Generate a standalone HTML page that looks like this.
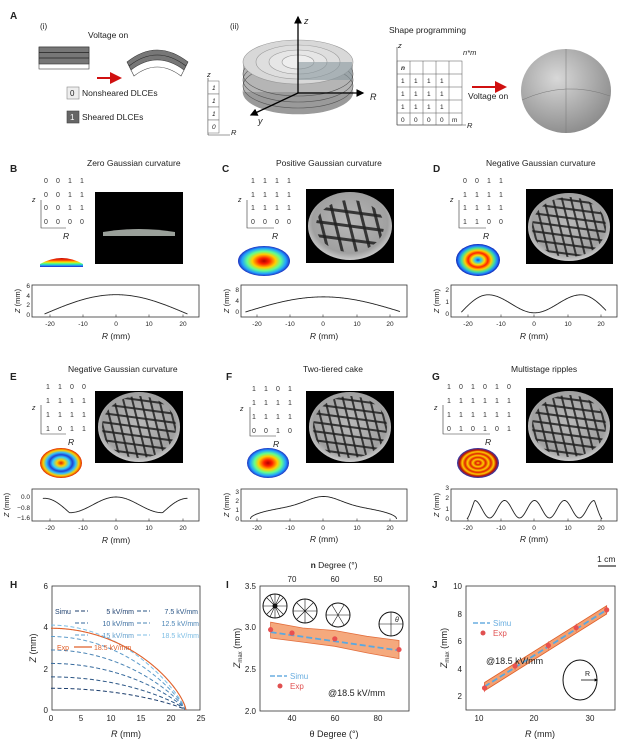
<!DOCTYPE html>
<html><head><meta charset="utf-8"><style>
html,body{margin:0;padding:0;background:#fff}
svg{display:block;font-family:"Liberation Sans",Arial,sans-serif}
</style></head><body>
<svg id="s" width="626" height="742" viewBox="0 0 626 742" xmlns="http://www.w3.org/2000/svg">
<defs>
<radialGradient id="hot" cx="50%" cy="50%" r="50%">
<stop offset="0" stop-color="#b00000"/><stop offset="0.2" stop-color="#ff2000"/><stop offset="0.45" stop-color="#ffd000"/><stop offset="0.65" stop-color="#60ff90"/><stop offset="0.85" stop-color="#20a0ff"/><stop offset="1" stop-color="#2030c0"/></radialGradient>
<radialGradient id="ringD" cx="50%" cy="50%" r="50%">
<stop offset="0" stop-color="#2040d0"/><stop offset="0.12" stop-color="#20c0ff"/><stop offset="0.3" stop-color="#ffe000"/><stop offset="0.45" stop-color="#ff2000"/><stop offset="0.6" stop-color="#ffd000"/><stop offset="0.75" stop-color="#40e0a0"/><stop offset="0.88" stop-color="#2080ff"/><stop offset="1" stop-color="#1020b0"/></radialGradient>
<radialGradient id="ringE" cx="50%" cy="50%" r="50%">
<stop offset="0" stop-color="#e02000"/><stop offset="0.2" stop-color="#ffd000"/><stop offset="0.4" stop-color="#30d0ff"/><stop offset="0.55" stop-color="#2040d0"/><stop offset="0.7" stop-color="#30c0ff"/><stop offset="0.85" stop-color="#ffd000"/><stop offset="1" stop-color="#e02000"/></radialGradient>
<radialGradient id="ringG" cx="50%" cy="50%" r="50%">
<stop offset="0" stop-color="#ffd000"/><stop offset="0.12" stop-color="#e02000"/><stop offset="0.25" stop-color="#ffd000"/><stop offset="0.37" stop-color="#e02000"/><stop offset="0.5" stop-color="#ffd000"/><stop offset="0.62" stop-color="#e02000"/><stop offset="0.75" stop-color="#ffd000"/><stop offset="0.87" stop-color="#c01000"/><stop offset="1" stop-color="#2040c0"/></radialGradient>
<radialGradient id="sph" cx="40%" cy="35%" r="70%"><stop offset="0" stop-color="#d8d8d8"/><stop offset="1" stop-color="#8a8a8a"/></radialGradient>
<radialGradient id="dish" cx="50%" cy="45%" r="60%"><stop offset="0" stop-color="#b8b8b8"/><stop offset="0.75" stop-color="#a0a0a0"/><stop offset="1" stop-color="#e0e0e0"/></radialGradient>
<linearGradient id="dome" x1="0" y1="0" x2="0" y2="1"><stop offset="0" stop-color="#c00000"/><stop offset="0.25" stop-color="#ff4000"/><stop offset="0.45" stop-color="#ffe000"/><stop offset="0.65" stop-color="#40ff90"/><stop offset="0.85" stop-color="#2090ff"/><stop offset="1" stop-color="#2020c0"/></linearGradient>
<marker id="ah" markerWidth="6" markerHeight="6" refX="5" refY="3" orient="auto"><path d="M0,0L6,3L0,6z" fill="#000"/></marker>
<marker id="ahr" markerWidth="6" markerHeight="6" refX="5" refY="3" orient="auto"><path d="M0,0L6,3L0,6z" fill="#d01010"/></marker>
<marker id="ahs" markerWidth="4" markerHeight="4" refX="3" refY="2" orient="auto"><path d="M0,0L4,2L0,4z" fill="#000"/></marker>
</defs>
<g font-size="8.5" fill="#222">
<!-- Panel A -->
<text x="10" y="19" font-weight="bold" font-size="10">A</text>
<text x="40" y="29" font-size="8">(i)</text>
<text x="88" y="38" font-size="8.5">Voltage on</text>
<rect x="39" y="47" width="50" height="22" fill="#fff" stroke="#444" stroke-width="0.6"/>
<rect x="39" y="47" width="50" height="17" fill="#777" stroke="#333" stroke-width="0.6"/>
<line x1="39" y1="52.5" x2="89" y2="52.5" stroke="#222" stroke-width="0.8"/><line x1="39" y1="58" x2="89" y2="58" stroke="#222" stroke-width="0.8"/>
<line x1="97" y1="78" x2="120" y2="78" stroke="#d01010" stroke-width="2" marker-end="url(#ahr)"/>
<path d="M127,62 Q157,38 188,62 L184,70 Q157,50 131,70 Z" fill="#777" stroke="#333" stroke-width="0.6"/>
<path d="M131,70 Q157,50 184,70 L181,76 Q157,58 134,76 Z" fill="#fff" stroke="#444" stroke-width="0.6"/>
<path d="M129,66 Q157,44 186,66" fill="none" stroke="#222" stroke-width="0.6"/>
<rect x="67" y="87" width="12" height="12" fill="#eee" stroke="#888" stroke-width="0.6"/><text x="70" y="96" font-size="8">0</text>
<text x="82" y="96" font-size="8.5">Nonsheared DLCEs</text>
<rect x="67" y="111" width="12" height="12" fill="#666" stroke="#444" stroke-width="0.6"/><text x="70" y="120" font-size="8" fill="#fff">1</text>
<text x="82" y="120" font-size="8.5">Sheared DLCEs</text>
<line x1="208" y1="78" x2="208" y2="135" stroke="#333" stroke-width="0.6"/><line x1="208" y1="135" x2="230" y2="135" stroke="#333" stroke-width="0.6"/>
<text x="207" y="77" font-style="italic" font-size="7.5">z</text><text x="231" y="135" font-style="italic" font-size="7.5">R</text>
<g stroke="#666" stroke-width="0.5" fill="#fff"><rect x="208" y="81" width="11" height="13"/><rect x="208" y="94" width="11" height="13"/><rect x="208" y="107" width="11" height="13"/><rect x="208" y="120" width="11" height="13"/></g>
<g font-size="6.5" font-style="italic"><text x="212" y="90">1</text><text x="212" y="103">1</text><text x="212" y="116">1</text><text x="212" y="129">0</text></g>
<text x="230" y="29" font-size="8">(ii)</text>
<g stroke="#999" stroke-width="0.6">
<ellipse cx="298" cy="92" rx="55" ry="22" fill="#9a9a9a"/>
<rect x="243" y="62" width="110" height="30" fill="#b5b5b5" stroke="none"/>
<ellipse cx="298" cy="86" rx="55" ry="22" fill="none" stroke="#555"/>
<ellipse cx="298" cy="80" rx="55" ry="22" fill="none" stroke="#555"/>
<ellipse cx="298" cy="74" rx="55" ry="22" fill="none" stroke="#555"/>
<ellipse cx="298" cy="62" rx="55" ry="22" fill="#d8d8d8"/>
<ellipse cx="298" cy="62" rx="42" ry="17" fill="#dedede"/>
<ellipse cx="298" cy="62" rx="29" ry="12" fill="#e6e6e6"/>
<ellipse cx="298" cy="62" rx="16" ry="7" fill="#eee"/>
</g>
<path d="M298,62 L352,62 L352,80 L298,80 Z" fill="#8a9aa0" opacity="0.6"/>
<line x1="298" y1="93" x2="298" y2="17" stroke="#000" stroke-width="1.3" marker-end="url(#ah)"/>
<line x1="298" y1="93" x2="363" y2="93" stroke="#000" stroke-width="1.3" marker-end="url(#ah)"/>
<line x1="298" y1="93" x2="251" y2="115" stroke="#000" stroke-width="1.3" marker-end="url(#ah)"/>
<text x="304" y="24" font-style="italic" font-size="9">z</text><text x="370" y="100" font-style="italic" font-size="9">R</text><text x="258" y="124" font-style="italic" font-size="9">y</text>
<text x="389" y="33" font-size="8.5">Shape programming</text>
<line x1="397" y1="47" x2="397" y2="125" stroke="#333" stroke-width="0.6"/><line x1="397" y1="125" x2="466" y2="125" stroke="#333" stroke-width="0.6"/>
<text x="398" y="48" font-style="italic" font-size="7.5">z</text><text x="467" y="128" font-style="italic" font-size="7.5">R</text>
<text x="463" y="55" font-style="italic" font-size="7.5">n*m</text>
<g stroke="#555" stroke-width="0.5" fill="none">
<rect x="397" y="61" width="65" height="64"/>
<line x1="410" y1="61" x2="410" y2="125"/><line x1="423" y1="61" x2="423" y2="125"/><line x1="436" y1="61" x2="436" y2="125"/><line x1="449" y1="61" x2="449" y2="125"/>
<line x1="397" y1="74" x2="462" y2="74"/><line x1="397" y1="87" x2="462" y2="87"/><line x1="397" y1="100" x2="462" y2="100"/><line x1="397" y1="113" x2="462" y2="113"/>
</g>
<g font-size="6.5"><text x="401" y="70" font-style="italic" font-weight="bold">n</text>
<text x="401" y="83">1</text><text x="414" y="83">1</text><text x="427" y="83">1</text><text x="440" y="83">1</text>
<text x="401" y="96">1</text><text x="414" y="96">1</text><text x="427" y="96">1</text><text x="440" y="96">1</text>
<text x="401" y="109">1</text><text x="414" y="109">1</text><text x="427" y="109">1</text><text x="440" y="109">1</text>
<text x="401" y="122">0</text><text x="414" y="122">0</text><text x="427" y="122">0</text><text x="440" y="122">0</text><text x="452" y="122">m</text></g>
<line x1="472" y1="87" x2="505" y2="87" stroke="#d01010" stroke-width="2" marker-end="url(#ahr)"/>
<text x="468" y="99" font-size="8.5">Voltage on</text>
<ellipse cx="566" cy="91" rx="45" ry="42" fill="url(#sph)"/>
<path d="M522,100 Q566,80 610,96" fill="none" stroke="#777" stroke-width="0.5"/><line x1="566" y1="49" x2="566" y2="133" stroke="#777" stroke-width="0.5"/>

<text x="10" y="172" font-weight="bold" font-size="10">B</text>
<text x="87" y="166" font-size="8.5">Zero Gaussian curvature</text>
<text x="222" y="172" font-weight="bold" font-size="10">C</text>
<text x="276" y="166" font-size="8.5">Positive Gaussian curvature</text>
<text x="433" y="172" font-weight="bold" font-size="10">D</text>
<text x="486" y="166" font-size="8.5">Negative Gaussian curvature</text>
<text x="10" y="380" font-weight="bold" font-size="10">E</text>
<text x="68" y="372" font-size="8.5">Negative Gaussian curvature</text>
<text x="226" y="380" font-weight="bold" font-size="10">F</text>
<text x="303" y="372" font-size="8.5">Two-tiered cake</text>
<text x="432" y="380" font-weight="bold" font-size="10">G</text>
<text x="511" y="372" font-size="8.5">Multistage ripples</text>

<g font-size="7" fill="#333">
<text x="44" y="183">0</text><text x="56" y="183">0</text><text x="68" y="183">1</text><text x="80" y="183">1</text>
<text x="44" y="197">0</text><text x="56" y="197">0</text><text x="68" y="197">1</text><text x="80" y="197">1</text>
<text x="44" y="210">0</text><text x="56" y="210">0</text><text x="68" y="210">1</text><text x="80" y="210">1</text>
<text x="44" y="224">0</text><text x="56" y="224">0</text><text x="68" y="224">0</text><text x="80" y="224">0</text>
<text x="251" y="183">1</text><text x="263" y="183">1</text><text x="275" y="183">1</text><text x="287" y="183">1</text>
<text x="251" y="197">1</text><text x="263" y="197">1</text><text x="275" y="197">1</text><text x="287" y="197">1</text>
<text x="251" y="210">1</text><text x="263" y="210">1</text><text x="275" y="210">1</text><text x="287" y="210">1</text>
<text x="251" y="224">0</text><text x="263" y="224">0</text><text x="275" y="224">0</text><text x="287" y="224">0</text>
<text x="463" y="183">0</text><text x="475" y="183">0</text><text x="487" y="183">1</text><text x="499" y="183">1</text>
<text x="463" y="197">1</text><text x="475" y="197">1</text><text x="487" y="197">1</text><text x="499" y="197">1</text>
<text x="463" y="210">1</text><text x="475" y="210">1</text><text x="487" y="210">1</text><text x="499" y="210">1</text>
<text x="463" y="224">1</text><text x="475" y="224">1</text><text x="487" y="224">0</text><text x="499" y="224">0</text>
<text x="46" y="389">1</text><text x="58" y="389">1</text><text x="70" y="389">0</text><text x="82" y="389">0</text>
<text x="46" y="403">1</text><text x="58" y="403">1</text><text x="70" y="403">1</text><text x="82" y="403">1</text>
<text x="46" y="417">1</text><text x="58" y="417">1</text><text x="70" y="417">1</text><text x="82" y="417">1</text>
<text x="46" y="431">1</text><text x="58" y="431">0</text><text x="70" y="431">1</text><text x="82" y="431">1</text>
<text x="252" y="391">1</text><text x="264" y="391">1</text><text x="276" y="391">0</text><text x="288" y="391">1</text>
<text x="252" y="405">1</text><text x="264" y="405">1</text><text x="276" y="405">1</text><text x="288" y="405">1</text>
<text x="252" y="419">1</text><text x="264" y="419">1</text><text x="276" y="419">1</text><text x="288" y="419">1</text>
<text x="252" y="433">0</text><text x="264" y="433">0</text><text x="276" y="433">1</text><text x="288" y="433">0</text>
<text x="447" y="389">1</text><text x="459" y="389">0</text><text x="471" y="389">1</text><text x="483" y="389">0</text><text x="495" y="389">1</text><text x="507" y="389">0</text>
<text x="447" y="403">1</text><text x="459" y="403">1</text><text x="471" y="403">1</text><text x="483" y="403">1</text><text x="495" y="403">1</text><text x="507" y="403">1</text>
<text x="447" y="417">1</text><text x="459" y="417">1</text><text x="471" y="417">1</text><text x="483" y="417">1</text><text x="495" y="417">1</text><text x="507" y="417">1</text>
<text x="447" y="431">0</text><text x="459" y="431">1</text><text x="471" y="431">0</text><text x="483" y="431">1</text><text x="495" y="431">0</text><text x="507" y="431">1</text>
</g>
<g stroke="#333" stroke-width="0.6" fill="none">
<path d="M41,200 V228 H66"/><path d="M247,200 V228 H274"/><path d="M459,200 V228 H486"/>
<path d="M41,405 V434 H66"/><path d="M250,407 V436 H276"/><path d="M443,405 V434 H490"/>
</g>
<g font-size="7" font-style="italic"><text x="32" y="202">z</text><text x="238" y="202">z</text><text x="450" y="202">z</text><text x="32" y="410">z</text><text x="240" y="411">z</text><text x="434" y="410">z</text></g>
<g font-size="8.5" font-style="italic"><text x="63" y="239">R</text><text x="272" y="239">R</text><text x="483" y="239">R</text><text x="68" y="445">R</text><text x="273" y="447">R</text><text x="485" y="445">R</text></g>

<rect x="95" y="192" width="88" height="72" fill="#000"/>
<path d="M103,232 Q139,226 175,232 L175,236 L103,236 Z" fill="#9aa09a"/>
<rect x="306" y="189" width="88" height="74" fill="#000"/>
<rect x="526" y="189" width="87" height="75" fill="#000"/>
<rect x="95" y="391" width="88" height="72" fill="#000"/>
<rect x="306" y="391" width="88" height="72" fill="#000"/>
<rect x="526" y="388" width="87" height="75" fill="#000"/>
<g id="dishes"></g>
<path d="M40,264 Q62,252 83,264 L83,267 L40,267 Z" fill="url(#dome)"/>
<ellipse cx="264" cy="261" rx="26" ry="15" fill="url(#hot)"/>
<ellipse cx="478" cy="260" rx="22" ry="16" fill="url(#ringD)"/>
<ellipse cx="61" cy="463" rx="21" ry="15" fill="url(#ringE)"/>
<ellipse cx="268" cy="463" rx="21" ry="15" fill="url(#hot)"/>
<ellipse cx="478" cy="463" rx="21" ry="15" fill="url(#ringG)"/>

<g fill="none" stroke="#333" stroke-width="0.8">
<rect x="32" y="285" width="167" height="32"/><rect x="241" y="285" width="166" height="32"/><rect x="451" y="285" width="166" height="32"/>
<rect x="32" y="489" width="167" height="32"/><rect x="241" y="489" width="166" height="32"/><rect x="451" y="489" width="166" height="32"/>
</g>
<g id="ticks" stroke="#333" stroke-width="0.6"></g>
<g font-size="6.5" text-anchor="middle">
<text x="50" y="326">-20</text><text x="83" y="326">-10</text><text x="116" y="326">0</text><text x="149" y="326">10</text><text x="183" y="326">20</text>
<text x="257" y="326">-20</text><text x="290" y="326">-10</text><text x="323" y="326">0</text><text x="357" y="326">10</text><text x="390" y="326">20</text>
<text x="468" y="326">-20</text><text x="501" y="326">-10</text><text x="534" y="326">0</text><text x="568" y="326">10</text><text x="601" y="326">20</text>
<text x="50" y="530">-20</text><text x="83" y="530">-10</text><text x="116" y="530">0</text><text x="149" y="530">10</text><text x="183" y="530">20</text>
<text x="257" y="530">-20</text><text x="290" y="530">-10</text><text x="323" y="530">0</text><text x="357" y="530">10</text><text x="390" y="530">20</text>
<text x="468" y="530">-20</text><text x="501" y="530">-10</text><text x="534" y="530">0</text><text x="568" y="530">10</text><text x="601" y="530">20</text>
</g>
<g font-size="6.5" text-anchor="end">
<text x="30" y="288">6</text><text x="30" y="298">4</text><text x="30" y="307">2</text><text x="30" y="317">0</text>
<text x="239" y="292">8</text><text x="239" y="303">4</text><text x="239" y="314">0</text>
<text x="449" y="292">2</text><text x="449" y="304">1</text><text x="449" y="316">0</text>
<text x="30" y="499">0.0</text><text x="30" y="510">−0.8</text><text x="30" y="520">−1.6</text>
<text x="239" y="494">3</text><text x="239" y="503">2</text><text x="239" y="512">1</text><text x="239" y="521">0</text>
<text x="449" y="490">3</text><text x="449" y="500">2</text><text x="449" y="511">1</text><text x="449" y="521">0</text>
</g>
<g font-size="8.5" text-anchor="middle">
<text x="116" y="339"><tspan font-style="italic">R</tspan> (mm)</text><text x="324" y="339"><tspan font-style="italic">R</tspan> (mm)</text><text x="534" y="339"><tspan font-style="italic">R</tspan> (mm)</text>
<text x="116" y="543"><tspan font-style="italic">R</tspan> (mm)</text><text x="324" y="542"><tspan font-style="italic">R</tspan> (mm)</text><text x="534" y="542"><tspan font-style="italic">R</tspan> (mm)</text>
</g>
<g font-size="7.5" text-anchor="middle">
<text transform="translate(20,301) rotate(-90)"><tspan font-style="italic">Z</tspan> (mm)</text>
<text transform="translate(229,301) rotate(-90)"><tspan font-style="italic">Z</tspan> (mm)</text>
<text transform="translate(439,301) rotate(-90)"><tspan font-style="italic">Z</tspan> (mm)</text>
<text transform="translate(9,505) rotate(-90)"><tspan font-style="italic">Z</tspan> (mm)</text>
<text transform="translate(229,505) rotate(-90)"><tspan font-style="italic">Z</tspan> (mm)</text>
<text transform="translate(439,505) rotate(-90)"><tspan font-style="italic">Z</tspan> (mm)</text>
</g>
<g id="curves" fill="none" stroke="#222" stroke-width="0.9"></g>

<text x="597" y="562" font-size="8.5">1 cm</text>
<line x1="598" y1="566" x2="616" y2="566" stroke="#000" stroke-width="1"/>

<!-- H -->
<text x="10" y="588" font-weight="bold" font-size="10">H</text>
<rect x="52" y="586" width="148" height="124" fill="none" stroke="#333" stroke-width="0.8"/>
<g font-size="8" text-anchor="middle"><text x="51" y="721">0</text><text x="81" y="721">5</text><text x="111" y="721">10</text><text x="141" y="721">15</text><text x="171" y="721">20</text><text x="201" y="721">25</text>
<text x="126" y="737" font-size="9"><tspan font-style="italic">R</tspan> (mm)</text></g>
<g font-size="8" text-anchor="end"><text x="48" y="589">6</text><text x="48" y="630">4</text><text x="48" y="672">2</text><text x="48" y="713">0</text></g>
<text transform="translate(36,648) rotate(-90)" font-size="9" text-anchor="middle"><tspan font-style="italic">Z</tspan> (mm)</text>
<g id="hcurves" fill="none"></g>
<g font-size="7">
<text x="55" y="614" fill="#1d3f6e">Simu</text>
<line x1="75" y1="611" x2="88" y2="611" stroke="#1d3f6e" stroke-dasharray="4,2"/><text x="134" y="614" text-anchor="end" fill="#1d3f6e">5 kV/mm</text>
<line x1="137" y1="611" x2="150" y2="611" stroke="#2a5585" stroke-dasharray="4,2"/><text x="198" y="614" text-anchor="end" fill="#2a5585">7.5 kV/mm</text>
<line x1="75" y1="623" x2="88" y2="623" stroke="#36699c" stroke-dasharray="4,2"/><text x="134" y="626" text-anchor="end" fill="#36699c">10 kV/mm</text>
<line x1="137" y1="623" x2="150" y2="623" stroke="#4a84b5" stroke-dasharray="4,2"/><text x="199" y="626" text-anchor="end" fill="#4a84b5">12.5 kV/mm</text>
<line x1="75" y1="635" x2="88" y2="635" stroke="#5d9ccb" stroke-dasharray="4,2"/><text x="134" y="638" text-anchor="end" fill="#5d9ccb">15 kV/mm</text>
<line x1="137" y1="635" x2="150" y2="635" stroke="#7cbde4" stroke-dasharray="4,2"/><text x="199" y="638" text-anchor="end" fill="#7cbde4">18.5 kV/mm</text>
<text x="57" y="650" fill="#e0602a">Exp</text>
<line x1="74" y1="647" x2="92" y2="647" stroke="#e0602a" stroke-width="1.2"/><text x="94" y="650" fill="#e0602a">18.5 kV/mm</text>
</g>

<!-- I -->
<text x="226" y="588" font-weight="bold" font-size="10">I</text>
<text x="334" y="568" font-size="8.5" text-anchor="middle"><tspan font-weight="bold">n</tspan> Degree (°)</text>
<rect x="260" y="586" width="149" height="125" fill="none" stroke="#333" stroke-width="0.8"/>
<g font-size="8" text-anchor="middle"><text x="292" y="582">70</text><text x="335" y="582">60</text><text x="378" y="582">50</text>
<text x="292" y="721">40</text><text x="335" y="721">60</text><text x="378" y="721">80</text>
<text x="334" y="737" font-size="9">θ Degree (°)</text></g>
<g font-size="8" text-anchor="end"><text x="256" y="589">3.5</text><text x="256" y="630">3.0</text><text x="256" y="672">2.5</text><text x="256" y="714">2.0</text></g>
<text transform="translate(240,648) rotate(-90)" font-size="9" text-anchor="middle"><tspan font-style="italic">Z</tspan><tspan font-size="6" dy="2">max</tspan><tspan dy="-2"> (mm)</tspan></text>
<g id="iplot"></g>
<g fill="none" stroke="#111" stroke-width="1">
<ellipse cx="275" cy="606" rx="12" ry="12"/><ellipse cx="305" cy="611" rx="12" ry="12"/><ellipse cx="338" cy="615" rx="12" ry="12"/><ellipse cx="391" cy="624" rx="12" ry="12"/>
</g>
<g stroke="#111" stroke-width="0.6">
<line x1="263" y1="606" x2="287" y2="606"/><line x1="275" y1="594" x2="275" y2="618"/><line x1="267" y1="598" x2="283" y2="614"/><line x1="267" y1="614" x2="283" y2="598"/><line x1="270" y1="595" x2="280" y2="617"/><line x1="270" y1="617" x2="280" y2="595"/>
<line x1="293" y1="611" x2="317" y2="611"/><line x1="305" y1="599" x2="305" y2="623"/><line x1="297" y1="603" x2="313" y2="619"/><line x1="297" y1="619" x2="313" y2="603"/>
<line x1="326" y1="615" x2="350" y2="615"/><line x1="332" y1="605" x2="344" y2="625"/><line x1="332" y1="625" x2="344" y2="605"/>
<line x1="379" y1="624" x2="403" y2="624"/><line x1="391" y1="612" x2="391" y2="636"/>
</g>
<circle cx="275" cy="606" r="2.5" fill="#111"/>
<text x="395" y="622" font-size="7" font-style="italic">θ</text>
<g font-size="8"><line x1="270" y1="676" x2="287" y2="676" stroke="#6aaee0" stroke-width="1.5" stroke-dasharray="5,2"/><text x="290" y="679" fill="#6aaee0">Simu</text>
<circle cx="280" cy="686" r="2.5" fill="#e05050"/><text x="290" y="689" fill="#e05050">Exp</text>
<text x="328" y="696" fill="#222" font-size="9">@18.5 kV/mm</text></g>

<!-- J -->
<text x="432" y="588" font-weight="bold" font-size="10">J</text>
<rect x="466" y="586" width="149" height="124" fill="none" stroke="#333" stroke-width="0.8"/>
<g font-size="8" text-anchor="middle"><text x="479" y="721">10</text><text x="534" y="721">20</text><text x="590" y="721">30</text>
<text x="540" y="737" font-size="9"><tspan font-style="italic">R</tspan> (mm)</text></g>
<g font-size="8" text-anchor="end"><text x="462" y="589">10</text><text x="462" y="617">8</text><text x="462" y="644">6</text><text x="462" y="672">4</text><text x="462" y="699">2</text></g>
<text transform="translate(447,648) rotate(-90)" font-size="9" text-anchor="middle"><tspan font-style="italic">Z</tspan><tspan font-size="6" dy="2">max</tspan><tspan dy="-2"> (mm)</tspan></text>
<g id="jplot"></g>
<g font-size="8"><line x1="473" y1="623" x2="490" y2="623" stroke="#6aaee0" stroke-width="1.5" stroke-dasharray="5,2"/><text x="493" y="626" fill="#6aaee0">Simu</text>
<circle cx="483" cy="633" r="2.5" fill="#e05050"/><text x="493" y="636" fill="#e05050">Exp</text>
<text x="486" y="664" fill="#222" font-size="9">@18.5 kV/mm</text></g>
<ellipse cx="580" cy="680" rx="17" ry="20" fill="none" stroke="#111" stroke-width="1"/>
<line x1="581" y1="680" x2="597" y2="680" stroke="#111" stroke-width="0.8" marker-end="url(#ahs)"/>
<text x="585" y="676" font-size="7">R</text>
</g>
</svg>
<script>
var NS="http://www.w3.org/2000/svg";
function el(p,t,a){var e=document.createElementNS(NS,t);for(var k in a)e.setAttribute(k,a[k]);document.getElementById(p).appendChild(e);return e;}
function path(p,f,x0,x1,mx,my,attrs){var d="";for(var i=0;i<=200;i++){var x=x0+(x1-x0)*i/200;d+=(i?"L":"M")+mx(x).toFixed(2)+","+my(f(x)).toFixed(2);}attrs.d=d;return el(p,"path",attrs);}
[[139,227,42,34],[350,226,42,34],[569,227,41,34],[139,427,41,35],[350,427,41,35],[569,426,41,35]].forEach(function(c,i){
 if(i>0){el("dishes","ellipse",{cx:c[0],cy:c[1],rx:c[2],ry:c[3],fill:"url(#dish)"});
 var g=i==1?14:9;var cl="cl"+i;var cp=el("dishes","clipPath",{id:cl});var e=document.createElementNS(NS,"ellipse");e.setAttribute("cx",c[0]);e.setAttribute("cy",c[1]);e.setAttribute("rx",c[2]-(i==1?8:4));e.setAttribute("ry",c[3]-(i==1?8:4));cp.appendChild(e);
 for(var k=-6;k<=6;k++){el("dishes","line",{x1:c[0]+k*g-10,y1:c[1]-40,x2:c[0]+k*g+10,y2:c[1]+40,stroke:"#222","stroke-width":i==1?3:2,"clip-path":"url(#"+cl+")",opacity:0.85});
 el("dishes","line",{x1:c[0]-45,y1:c[1]+k*g-6,x2:c[0]+45,y2:c[1]+k*g+6,stroke:"#222","stroke-width":i==1?3:2,"clip-path":"url(#"+cl+")",opacity:0.85});}}
});
var cs={stroke:"#222","stroke-width":0.9,fill:"none"};
var xB=function(x){return 116+x*3.325},xC=function(x){return 323.5+x*3.325},xD=function(x){return 534.5+x*3.325};
path("curves",function(x){return 4*Math.cos(Math.PI*x/43)},-21.5,21.5,xB,function(z){return 314-z*4.83},cs);
path("curves",function(x){return 5.5*Math.cos(Math.PI*x/47)},-23.5,23,xC,function(z){return 312-z*2.75},cs);
path("curves",function(x){var a=Math.abs(x);return a<14?0.85-0.75*Math.cos(Math.PI*a/14):1.6*Math.cos(Math.PI*(a-14)/17)},-22,21.5,xD,function(z){return 314-z*12},cs);
path("curves",function(x){var a=Math.abs(x);return a<14?-0.6+0.6*Math.cos(Math.PI*a/14):-1.2+1.1*Math.sin(Math.PI*(a-14)/15)},-22,21.5,xB,function(z){return 497-z*13.1},cs);
path("curves",function(x){var c=Math.max(0,Math.cos(Math.PI*x/44));return 1.5*Math.pow(c,0.5)+1.0*Math.exp(-(x/7)*(x/7))},-22,22,xC,function(z){return 519-z*9},cs);
path("curves",function(x){var a=Math.abs(x);var z=0.95+0.85*Math.cos(2*Math.PI*x/9);if(a>18)z*=Math.max(0,(20.3-a)/2.3);return z},-20.3,20.3,xD,function(z){return 519-z*10.3},cs);
[[50,83,116,149,183],[257,290,323,357,390],[468,501,534,568,601]].forEach(function(t){t.forEach(function(x){[317,521].forEach(function(y){el("ticks","line",{x1:x,y1:y,x2:x,y2:y-2.5})})})});
var hx=function(r){return 51+r*6},hy=function(z){return 710-z*20.7};
var hs=[1.05,1.6,2.25,2.9,3.55,4.1],hc=["#1d3f6e","#2a5585","#36699c","#4a84b5","#5d9ccb","#7cbde4"];
hs.forEach(function(h,i){path("hcurves",function(r){return h*Math.pow(Math.max(0,1-(r/22.5)*(r/22.5)),0.85)},0,22.5,hx,hy,{stroke:hc[i],"stroke-width":1,"stroke-dasharray":"4,2.5",fill:"none"})});
path("hcurves",function(r){return 3.95*Math.pow(Math.max(0,1-(r/22.5)*(r/22.5)),0.72)},0,22.5,hx,hy,{stroke:"#e0602a","stroke-width":1.1,fill:"none"});
var ix=function(t){return 292+(t-40)*2.14},iy=function(z){return 711-(z-2)*83};
var up=[[30,3.07],[45,3.0],[60,2.97],[75,2.9],[90,2.85]],lo=[[90,2.63],[75,2.7],[60,2.78],[45,2.83],[30,2.88]];
var d="";up.concat(lo).forEach(function(p,i){d+=(i?"L":"M")+ix(p[0]).toFixed(1)+","+iy(p[1]).toFixed(1)});
el("iplot","path",{d:d+"Z",fill:"#f4a070",stroke:"#e0602a","stroke-width":0.8,opacity:0.9});
el("iplot","line",{x1:ix(30),y1:iy(2.95),x2:ix(90),y2:iy(2.73),stroke:"#5aa8e0","stroke-width":1.8,"stroke-dasharray":"6,3"});
[[30,2.98],[40,2.94],[60,2.87],[90,2.74]].forEach(function(p){el("iplot","circle",{cx:ix(p[0]),cy:iy(p[1]),r:2.6,fill:"#e85050"})});
var jx=function(r){return 479+(r-10)*5.55},jy=function(z){return 723.6-z*13.7};
d="M"+jx(11)+","+jy(3.0)+"L"+jx(33)+","+jy(8.6)+"L"+jx(33)+","+jy(8.0)+"L"+jx(11)+","+jy(2.4)+"Z";
el("jplot","path",{d:d,fill:"#f4a070",stroke:"#e0602a","stroke-width":0.8});
el("jplot","line",{x1:jx(11),y1:jy(2.7),x2:jx(33),y2:jy(8.3),stroke:"#5aa8e0","stroke-width":1.8,"stroke-dasharray":"6,3"});
[[11,2.6],[16.5,4.2],[22.5,5.7],[27.5,7.0],[33,8.3]].forEach(function(p){el("jplot","line",{x1:jx(p[0]),y1:jy(p[1]-0.3),x2:jx(p[0]),y2:jy(p[1]+0.3),stroke:"#e05050","stroke-width":0.6});el("jplot","circle",{cx:jx(p[0]),cy:jy(p[1]),r:2.6,fill:"#e85050"})});
</script>
</body></html>
